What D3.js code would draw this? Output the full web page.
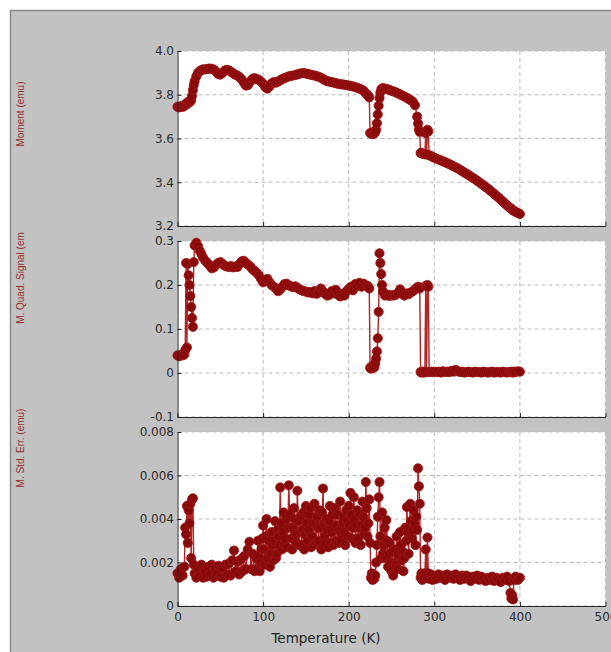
<!DOCTYPE html>
<html>
<head>
<meta charset="utf-8">
<script src="https://cdn.jsdelivr.net/npm/d3@7"></script>
<style>
  html, body { margin: 0; padding: 0; background: #fff; }
  svg { display: block; }
  .axis text { font-family: "DejaVu Sans", sans-serif; font-size: 12px; fill: #2b2b2b; }
</style>
</head>
<body>
<svg id="chart" width="611" height="652"></svg>
<script>
// Temperature (K) for the moment and quadrature signal panels
const temperature = [
  0, 2, 4, 6, 8, 9, 10, 11, 12, 13, 14, 15, 16, 17, 18, 19, 20, 22, 24, 26, 28, 30,
  32.5, 35, 37.5, 40, 42.5, 45, 47.5, 50, 52.5, 55, 57.5, 60, 62.5, 65, 67.5, 70, 72.5, 75, 77.5, 80,
  82.5, 85, 87.5, 90, 92.5, 95, 97.5, 100, 102.5, 105, 107.5, 110, 112.5, 115, 117.5, 120, 122.5, 125, 127.5, 130,
  132.5, 135, 137.5, 140, 142.5, 145, 147.5, 150, 152.5, 155, 157.5, 160, 162.5, 165, 167.5, 170, 172.5, 175, 177.5, 180,
  182.5, 185, 187.5, 190, 192.5, 195, 197.5, 200, 202.5, 205, 207.5, 210, 212.5, 215, 217.5, 220,
  222, 223, 224, 225, 226, 227, 228, 229, 230, 231, 232, 233, 234, 235, 236, 237, 238, 239, 240,
  242.5, 245, 247.5, 250, 252.5, 255, 257.5, 260, 262.5, 265, 267.5, 270, 272.5, 275, 277.5, 280,
  281, 282, 283, 284, 285, 286, 287, 288, 289, 290, 291, 292, 293, 294, 296, 298, 300,
  302.5, 305, 307.5, 310, 312.5, 315, 317.5, 320, 322.5, 325, 327.5, 330, 332.5, 335, 337.5, 340, 342.5, 345,
  347.5, 350, 352.5, 355, 357.5, 360, 362.5, 365, 367.5, 370, 372.5, 375, 377.5, 380, 382.5, 385, 387.5,
  389, 390, 391, 392, 393, 395, 397.5, 400
];

// Moment (emu)
const moment = [
  3.745, 3.742, 3.748, 3.744, 3.750, 3.752, 3.760, 3.757, 3.766, 3.764, 3.770, 3.768, 3.776, 3.795, 3.822, 3.845, 3.862, 3.884, 3.900, 3.908, 3.913, 3.916,
  3.916, 3.918, 3.920, 3.918, 3.915, 3.905, 3.895, 3.892, 3.900, 3.910, 3.914, 3.912, 3.905, 3.898, 3.892, 3.888, 3.880, 3.870, 3.855, 3.842,
  3.845, 3.860, 3.872, 3.876, 3.872, 3.868, 3.860, 3.850, 3.835, 3.828, 3.838, 3.852, 3.858, 3.855, 3.860, 3.866, 3.872, 3.876, 3.880, 3.884,
  3.886, 3.888, 3.890, 3.893, 3.896, 3.898, 3.899, 3.897, 3.895, 3.892, 3.890, 3.888, 3.885, 3.882, 3.878, 3.872, 3.866, 3.862, 3.860, 3.858,
  3.855, 3.853, 3.850, 3.849, 3.847, 3.846, 3.844, 3.842, 3.840, 3.838, 3.835, 3.832, 3.828, 3.824, 3.818, 3.806,
  3.800, 3.794, 3.788, 3.625, 3.622, 3.628, 3.620, 3.626, 3.623, 3.630, 3.640, 3.670, 3.710, 3.750, 3.785, 3.810, 3.824, 3.828, 3.830,
  3.828, 3.826, 3.822, 3.818, 3.815, 3.811, 3.806, 3.802, 3.797, 3.792, 3.787, 3.781, 3.775, 3.768, 3.752, 3.700,
  3.668, 3.640, 3.630, 3.534, 3.533, 3.532, 3.530, 3.529, 3.528, 3.625, 3.527, 3.640, 3.632, 3.524, 3.520, 3.516, 3.512,
  3.508, 3.504, 3.500, 3.496, 3.492, 3.487, 3.483, 3.478, 3.473, 3.468, 3.463, 3.457, 3.451, 3.445, 3.439, 3.433, 3.427, 3.420,
  3.414, 3.407, 3.400, 3.393, 3.386, 3.378, 3.371, 3.363, 3.355, 3.347, 3.338, 3.330, 3.321, 3.312, 3.303, 3.294, 3.286,
  3.281, 3.278, 3.275, 3.272, 3.269, 3.265, 3.260, 3.255
];

// M. Quad. Signal (emu)
const quadSignal = [
  0.040, 0.038, 0.041, 0.040, 0.042, 0.052, 0.250, 0.058, 0.248, 0.222, 0.200, 0.175, 0.150, 0.125, 0.105, 0.252, 0.290, 0.296, 0.288, 0.278, 0.270, 0.262,
  0.255, 0.250, 0.244, 0.238, 0.240, 0.246, 0.250, 0.252, 0.248, 0.244, 0.242, 0.241, 0.243, 0.240, 0.242, 0.241, 0.248, 0.254, 0.255, 0.250,
  0.246, 0.242, 0.236, 0.232, 0.228, 0.222, 0.214, 0.206, 0.210, 0.214, 0.206, 0.200, 0.196, 0.192, 0.186, 0.190, 0.196, 0.202, 0.203, 0.199,
  0.197, 0.195, 0.197, 0.194, 0.190, 0.188, 0.186, 0.185, 0.183, 0.184, 0.181, 0.186, 0.180, 0.183, 0.192, 0.185, 0.180, 0.176, 0.178, 0.186,
  0.181, 0.189, 0.178, 0.174, 0.180, 0.176, 0.186, 0.191, 0.196, 0.188, 0.202, 0.198, 0.205, 0.196, 0.203, 0.199,
  0.198, 0.195, 0.192, 0.012, 0.010, 0.015, 0.011, 0.018, 0.013, 0.022, 0.033, 0.049, 0.079, 0.139, 0.272, 0.250, 0.225, 0.200, 0.185,
  0.176, 0.178, 0.175, 0.177, 0.176, 0.178, 0.182, 0.190, 0.180, 0.176, 0.181, 0.179, 0.183, 0.186, 0.190, 0.194,
  0.196, 0.195, 0.192, 0.002, 0.001, 0.003, 0.002, 0.001, 0.003, 0.198, 0.002, 0.200, 0.196, 0.002, 0.003, 0.002, 0.003,
  0.002, 0.003, 0.001, 0.004, 0.002, 0.003, 0.002, 0.005, 0.003, 0.007, 0.004, 0.002, 0.003, 0.001, 0.002, 0.003, 0.002, 0.001,
  0.003, 0.002, 0.002, 0.001, 0.003, 0.002, 0.001, 0.002, 0.003, 0.001, 0.002, 0.002, 0.001, 0.003, 0.002, 0.001, 0.002,
  0.002, 0.003, 0.002, 0.001, 0.003, 0.002, 0.004, 0.003
];

// Temperature (K) for the standard error panel (denser in the noisy range)
const errTemperature = [
  0, 2, 4, 6, 8,
  9, 10, 11, 12, 13, 14, 15, 16, 17, 18, 19, 20,
  22, 24, 26, 28, 30, 32, 34, 36, 38, 40, 42, 44, 46, 48, 50, 52, 54, 56, 58, 60,
  62, 64, 66, 68, 70, 72, 74, 76, 78, 80, 82, 84, 86, 88, 90,
  92, 93, 94, 95, 96, 97, 98, 99, 100, 101,
  102, 103, 104, 105, 106, 107, 108, 109, 110, 111,
  112, 113, 114, 115, 116, 117, 118, 119, 120, 121,
  122, 123, 124, 125, 126, 127, 128, 129, 130, 131,
  132, 133, 134, 135, 136, 137, 138, 139, 140, 141,
  142, 143, 144, 145, 146, 147, 148, 149, 150, 151,
  152, 153, 154, 155, 156, 157, 158, 159, 160, 161,
  162, 163, 164, 165, 166, 167, 168, 169, 170, 171,
  172, 173, 174, 175, 176, 177, 178, 179, 180, 181,
  182, 183, 184, 185, 186, 187, 188, 189, 190, 191,
  192, 193, 194, 195, 196, 197, 198, 199, 200, 201,
  202, 203, 204, 205, 206, 207, 208, 209, 210, 211,
  212, 213, 214, 215, 216, 217, 218, 219, 220, 221,
  222, 223, 224,
  225, 226, 227, 228, 229, 230, 231, 232, 233, 234, 235, 236, 237, 238, 239, 240,
  241, 242, 243, 244, 245, 246, 247, 248, 249, 250,
  251, 252, 253, 254, 255, 256, 257, 258, 259, 260,
  261, 262, 263, 264, 265, 266, 267, 268, 269, 270,
  271, 272, 273, 274, 275, 276, 277, 278, 279, 280,
  281, 282, 283, 284, 285, 286, 287, 288, 289, 290, 291, 292, 293, 294, 296, 298, 300,
  302.5, 305, 307.5, 310, 312.5, 315, 317.5, 320, 322.5, 325, 327.5, 330, 332.5, 335, 337.5, 340, 342.5, 345,
  347.5, 350, 352.5, 355, 357.5, 360, 362.5, 365, 367.5, 370, 372.5, 375, 377.5, 380, 382.5, 385, 387.5,
  389, 390, 391, 392, 393, 395, 397.5, 400
];

// M. Std. Err. (emu)
const stdErr = [
  0.0015, 0.0013, 0.0017, 0.0014, 0.0018,
  0.0036, 0.0033, 0.0046, 0.0029, 0.0044, 0.0038, 0.0047, 0.0022, 0.0049, 0.00495, 0.0019, 0.0015,
  0.0013, 0.0017, 0.0014, 0.0019, 0.0013, 0.0016, 0.00135, 0.0018, 0.00145, 0.0019, 0.0013, 0.0017, 0.0015, 0.00185, 0.00135, 0.00175, 0.0013, 0.0019, 0.00145, 0.00195,
  0.0014, 0.0021, 0.00255, 0.0016, 0.00205, 0.00145, 0.00215, 0.0016, 0.0023, 0.0017, 0.0026, 0.00295, 0.0017, 0.0024, 0.0016,
  0.0022, 0.0017, 0.0030, 0.0023, 0.0016, 0.0020, 0.0026, 0.0031, 0.0037, 0.0026,
  0.0019, 0.0032, 0.0040, 0.0022, 0.0025, 0.0030, 0.0018, 0.0024, 0.0034, 0.0028,
  0.0021, 0.0030, 0.0039, 0.0022, 0.0024, 0.0035, 0.0032, 0.0028, 0.00545, 0.0038,
  0.0026, 0.0034, 0.0043, 0.0028, 0.0031, 0.0040, 0.0027, 0.0036, 0.00555, 0.0042,
  0.0036, 0.0031, 0.0026, 0.0036, 0.0045, 0.0040, 0.0033, 0.0029, 0.0053, 0.0039,
  0.0028, 0.0034, 0.0041, 0.0028, 0.0035, 0.0043, 0.0026, 0.0033, 0.0046, 0.0038,
  0.0030, 0.0035, 0.0042, 0.0045, 0.0027, 0.0032, 0.0038, 0.0028, 0.0047, 0.0038,
  0.0029, 0.0041, 0.0036, 0.0030, 0.0044, 0.0036, 0.0026, 0.0043, 0.0054, 0.0038,
  0.0032, 0.0029, 0.0040, 0.0035, 0.0027, 0.0039, 0.0046, 0.0029, 0.0034, 0.0042,
  0.0028, 0.0036, 0.0045, 0.0030, 0.0037, 0.0042, 0.0029, 0.0035, 0.0048, 0.0030,
  0.0033, 0.0038, 0.0041, 0.0034, 0.0028, 0.0044, 0.0039, 0.0032, 0.0046, 0.0037,
  0.0052, 0.0042, 0.0031, 0.0036, 0.0050, 0.0040, 0.0029, 0.0037, 0.0044, 0.0031,
  0.0036, 0.0042, 0.0028, 0.0037, 0.0048, 0.0041, 0.0033, 0.0036, 0.0057, 0.0045,
  0.0032, 0.0038, 0.0049,
  0.0029, 0.0013, 0.0015, 0.0012, 0.00145, 0.00125, 0.0014, 0.0020, 0.0028, 0.0041, 0.0050, 0.0057, 0.0032, 0.0022, 0.0043, 0.0024,
  0.0028, 0.0036, 0.0022, 0.00395, 0.0030, 0.0018, 0.0024, 0.0029, 0.0020, 0.0016,
  0.0025, 0.0014, 0.0020, 0.0026, 0.0019, 0.0032, 0.0024, 0.0017, 0.0026, 0.0034,
  0.0028, 0.0021, 0.0025, 0.0016, 0.0022, 0.0036, 0.0030, 0.00455, 0.0034, 0.0024,
  0.0036, 0.0047, 0.0039, 0.0031, 0.0035, 0.0044, 0.0038, 0.0028, 0.0041, 0.0035,
  0.00633, 0.0055, 0.0047, 0.0013, 0.0015, 0.0012, 0.00145, 0.0013, 0.0015, 0.0026, 0.0013, 0.00315, 0.0015, 0.00125, 0.00145, 0.0012, 0.0014,
  0.00125, 0.00145, 0.0013, 0.0014, 0.0012, 0.00145, 0.0013, 0.0014, 0.00125, 0.00145, 0.0013, 0.0012, 0.0014, 0.00125, 0.0014, 0.0013, 0.00115, 0.00135,
  0.00125, 0.0014, 0.0012, 0.00135, 0.00125, 0.00115, 0.0013, 0.0012, 0.00135, 0.00115, 0.0013, 0.0012, 0.0011, 0.0013, 0.0012, 0.00135, 0.00115,
  0.0006, 0.00035, 0.0005, 0.0003, 0.0012, 0.00135, 0.0012, 0.0013
];

// Axis ticks and labels
const tempTicks = [0, 100, 200, 300, 400, 500];
const tempTickLabels = ['0', '100', '200', '300', '400', '500'];
const momentTicks = [3.2, 3.4, 3.6, 3.8, 4.0];
const momentTickLabels = ['3.2', '3.4', '3.6', '3.8', '4.0'];
const quadTicks = [-0.1, 0, 0.1, 0.2, 0.3];
const quadTickLabels = ['-0.1', '0', '0.1', '0.2', '0.3'];
const errTicks = [0, 0.002, 0.004, 0.006, 0.008];
const errTickLabels = ['0', '0.002', '0.004', '0.006', '0.008'];
const yLabels = ['Moment (emu)', 'M. Quad. Signal (em', 'M. Std. Err. (emu)'];
const xLabel = 'Temperature (K)';

const W = 611, H = 652;
const svg = d3.select('#chart');

// Figure background (grey window with a thin border)
svg.append('rect').attr('width', W).attr('height', H).attr('fill', '#fff');
svg.append('rect')
    .attr('x', 10.5).attr('y', 10.5)
    .attr('width', W).attr('height', H)
    .attr('fill', '#c2c2c2')
    .attr('stroke', '#8a8a8a')
    .attr('stroke-width', 1.5);

const plotLeft = 177.5, plotRight = 605.5;
const x = d3.scaleLinear().domain([0, 500]).range([plotLeft, plotRight]);

const panels = [
    { temps: temperature, values: moment, ticks: momentTicks, labels: momentTickLabels, top: 51, bottom: 226, title: yLabels[0], titleY: 114 },
    { temps: temperature, values: quadSignal, ticks: quadTicks, labels: quadTickLabels, top: 241, bottom: 417, title: yLabels[1], titleY: 278 },
    { temps: errTemperature, values: stdErr, ticks: errTicks, labels: errTickLabels, top: 432, bottom: 606, title: yLabels[2], titleY: 448 }
];

panels.forEach((p, idx) => {
    const y = d3.scaleLinear()
        .domain([p.ticks[0], p.ticks[p.ticks.length - 1]])
        .range([p.bottom, p.top]);

    const g = svg.append('g');

    // White plotting area
    g.append('rect')
        .attr('x', plotLeft).attr('y', p.top)
        .attr('width', plotRight - plotLeft)
        .attr('height', p.bottom - p.top)
        .attr('fill', '#fff');

    // Dashed grid
    g.append('g').selectAll('line')
        .data(p.ticks)
        .join('line')
        .attr('x1', plotLeft).attr('x2', plotRight)
        .attr('y1', d => y(d)).attr('y2', d => y(d))
        .attr('stroke', '#b9b9b9')
        .attr('stroke-dasharray', '4,3');

    g.append('g').selectAll('line')
        .data(tempTicks.slice(1))
        .join('line')
        .attr('x1', d => x(d)).attr('x2', d => x(d))
        .attr('y1', p.top).attr('y2', p.bottom)
        .attr('stroke', '#b9b9b9')
        .attr('stroke-dasharray', '4,3');

    // Data: connecting line and markers
    const pts = p.temps.map((t, i) => [t, p.values[i]]);

    g.append('path')
        .datum(pts)
        .attr('fill', 'none')
        .attr('stroke', '#b02525')
        .attr('stroke-width', 1.4)
        .attr('d', d3.line().x(d => x(d[0])).y(d => y(d[1])));

    g.append('g').selectAll('circle')
        .data(pts)
        .join('circle')
        .attr('cx', d => x(d[0]))
        .attr('cy', d => y(d[1]))
        .attr('r', 4.6)
        .attr('fill', '#870909')
        .attr('stroke', '#a01717')
        .attr('stroke-width', 0.8);

    // Axes (left and bottom only, ticks pointing inward)
    g.append('g')
        .attr('class', 'axis')
        .attr('transform', `translate(${plotLeft},0)`)
        .attr('color', '#222')
        .call(d3.axisLeft(y)
            .tickValues(p.ticks)
            .tickFormat((d, i) => p.labels[i])
            .tickSize(-4)
            .tickSizeOuter(0)
            .tickPadding(3.5));

    const last = idx === panels.length - 1;
    g.append('g')
        .attr('class', 'axis')
        .attr('transform', `translate(0,${p.bottom})`)
        .attr('color', '#222')
        .call(d3.axisBottom(x)
            .tickValues(tempTicks)
            .tickFormat((d, i) => last ? tempTickLabels[i] : '')
            .tickSize(-4)
            .tickSizeOuter(0)
            .tickPadding(6));

    // Y label
    svg.append('text')
        .attr('transform', `translate(23.5,${p.titleY}) rotate(-90)`)
        .attr('text-anchor', 'middle')
        .attr('font-family', '"Liberation Sans", Arial, sans-serif')
        .attr('font-size', 10)
        .attr('fill', '#962f2f')
        .text(p.title);
});

// X label
svg.append('text')
    .attr('x', 326)
    .attr('y', 643)
    .attr('text-anchor', 'middle')
    .attr('font-family', '"DejaVu Sans", sans-serif')
    .attr('font-size', 13.5)
    .attr('fill', '#222')
    .text(xLabel);
</script>
</body>
</html>
